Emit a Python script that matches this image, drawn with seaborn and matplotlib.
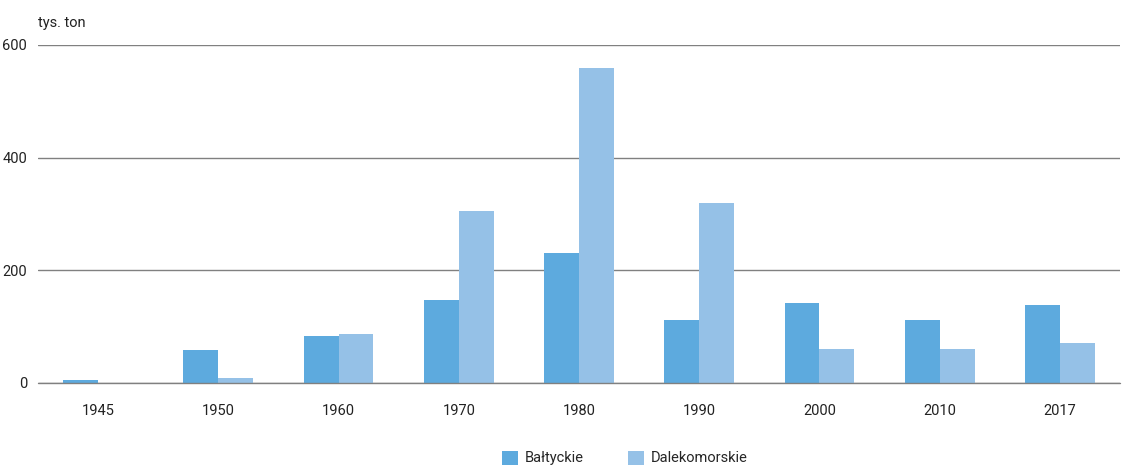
import pandas as pd
import numpy as np
import matplotlib
matplotlib.use("Agg")
import matplotlib.pyplot as plt
import seaborn as sns
from matplotlib.patches import Patch

years = ["1945", "1950", "1960", "1970", "1980", "1990", "2000", "2010", "2017"]
baltyckie = [5, 58, 83, 147, 231, 112, 142, 112, 138]
dalekomorskie = [0, 9, 87, 305, 559, 320, 60, 60, 71]
colors = ["#5DAADE", "#95C1E7"]

sns.set_style("white")
plt.rcParams["font.family"] = ["Roboto", "DejaVu Sans"]

df = pd.DataFrame({
    "rok": years * 2,
    "wartosc": baltyckie + dalekomorskie,
    "typ": ["Bałtyckie"] * len(years) + ["Dalekomorskie"] * len(years),
})

fig = plt.figure(figsize=(11.32, 4.68), dpi=100)
ax = fig.add_axes([38 / 1132, 1 - 383 / 468, (1120 - 38) / 1132, (383 - 45) / 468])

sns.barplot(data=df, x="rok", y="wartosc", hue="typ", order=years,
            palette=colors, width=0.58, saturation=1, linewidth=0,
            ax=ax, legend=False)

ax.set_ylim(0, 600)
ax.set_yticks([0, 200, 400, 600])
ax.set_xlim(-0.5, len(years) - 0.5)
ax.yaxis.grid(True, color="#808080", linewidth=1)
ax.set_axisbelow(True)
ax.axhline(0, color="#808080", linewidth=1, zorder=5, clip_on=False)
for s in ax.spines.values():
    s.set_visible(False)
ax.set_xlabel("")
ax.set_ylabel("")
ax.tick_params(axis="both", length=0, labelsize=10.5, colors="#222222")
ax.tick_params(axis="x", pad=15)
ax.tick_params(axis="y", pad=8)
ax.text(0.0, 1.045, "tys. ton", transform=ax.transAxes, fontsize=10.5,
        color="#222222", ha="left", va="bottom")

handles = [Patch(facecolor=c, edgecolor="none") for c in colors]
fig.legend(handles, ["Bałtyckie", "Dalekomorskie"], loc="center",
           bbox_to_anchor=(0.552, 1 - 458 / 468), ncol=2, frameon=False,
           fontsize=10.5, handlelength=1.1, handleheight=1.1,
           columnspacing=3.0, handletextpad=0.5)

fig.savefig("out.png", dpi=100)
